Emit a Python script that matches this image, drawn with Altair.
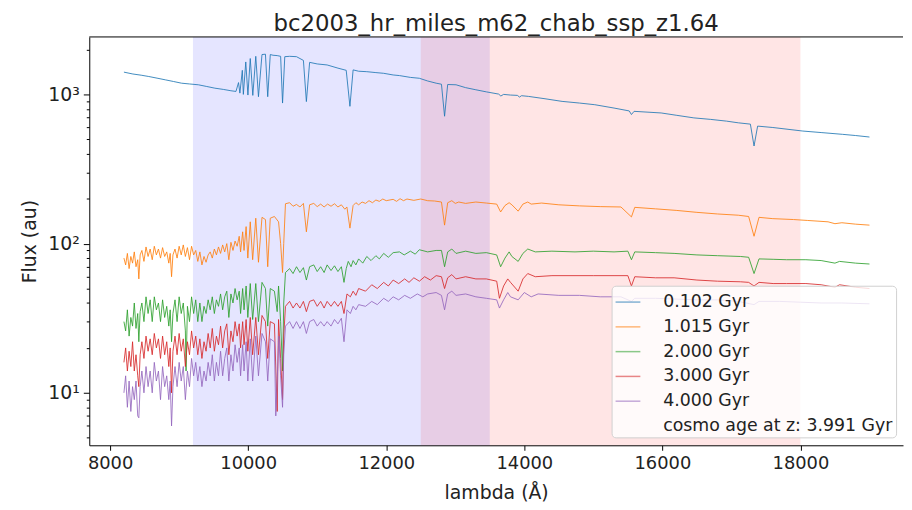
import altair as alt
import pandas as pd

TITLE = "bc2003_hr_miles_m62_chab_ssp_z1.64"
labels = ["0.102 Gyr", "1.015 Gyr", "2.000 Gyr", "3.000 Gyr", "4.000 Gyr",
          "cosmo age at z: 3.991 Gyr"]
colors = ["#1f77b4", "#ff7f0e", "#2ca02c", "#d62728", "#9467bd", "rgba(0,0,0,0)"]

span_start = [9200, 12500]
span_end = [13500, 18000]
span_color = ["#0000ff", "#ff0000"]

x_ticks = [8000, 10000, 12000, 14000, 16000, 18000]
y_ticks = [5, 6, 7, 8, 9, 10, 20, 30, 40, 50, 60, 70, 80, 90, 100, 200, 300, 400,
           500, 600, 700, 800, 900, 1000, 2000]

# (lambda [A], flux [au])
s_0102 = [(8200, 1410), (8330, 1370), (8450, 1345), (8560, 1318), (8680, 1285), (8800, 1252),
          (8920, 1220), (9034, 1189), (9150, 1175), (9278, 1160), (9400, 1130), (9517, 1101),
          (9640, 1080), (9750, 1058), (9823, 1047), (9860, 1200), (9880, 1020), (9915, 1450),
          (9930, 1000), (9965, 1650), (9996, 990), (10030, 1740), (10067, 985), (10110, 1800),
          (10149, 965), (10200, 1850), (10250, 1860), (10283, 965), (10320, 1850), (10360, 1830),
          (10420, 1820), (10470, 1800), (10498, 875), (10530, 1790), (10600, 1800), (10700, 1790),
          (10800, 1690), (10843, 895), (10890, 1640), (11000, 1600), (11144, 1575), (11300, 1500),
          (11420, 1450), (11474, 832), (11520, 1460), (11600, 1430), (11718, 1420), (11850, 1400),
          (11963, 1385), (12100, 1350), (12192, 1337), (12350, 1300), (12479, 1283), (12600, 1230),
          (12723, 1189), (12800, 1170), (12845, 714), (12890, 1165), (13011, 1160), (13150, 1110),
          (13298, 1074), (13450, 1040), (13628, 1005), (13660, 975), (13700, 1000), (13800, 990),
          (13900, 985), (13930, 960), (13960, 980), (14059, 970), (14300, 935),
          (14547, 898), (14800, 875), (15021, 853), (15300, 810), (15520, 775), (15552, 733),
          (15590, 770), (15983, 751), (16200, 725), (16456, 696), (16700, 680), (16930, 662),
          (17100, 645), (17275, 632), (17328, 451), (17380, 613), (17600, 600), (18035, 568),
          (18300, 555), (18610, 540), (18800, 530), (19000, 518)]

s_1015 = [(8200, 80), (8225, 72), (8250, 86), (8275, 68), (8300, 82), (8325, 74), (8350, 88),
          (8375, 70), (8400, 78), (8416, 58), (8435, 84), (8460, 90), (8490, 76), (8520, 95),
          (8550, 82), (8580, 92), (8610, 78), (8640, 96), (8670, 84), (8700, 92), (8730, 80),
          (8760, 94), (8790, 82), (8820, 88), (8850, 74), (8870, 86), (8890, 60), (8910, 84),
          (8940, 92), (8970, 80), (9000, 96), (9030, 84), (9060, 98), (9090, 82), (9120, 94),
          (9150, 78), (9180, 96), (9210, 84), (9240, 90), (9270, 76), (9300, 88), (9330, 72),
          (9360, 82), (9390, 75), (9420, 84), (9450, 88), (9480, 80), (9510, 92), (9540, 84),
          (9570, 95), (9600, 86), (9630, 98), (9660, 88), (9690, 100), (9720, 78), (9750, 102),
          (9780, 90), (9810, 104), (9840, 96), (9870, 112), (9890, 88), (9920, 120), (9940, 90),
          (9970, 130), (9995, 80), (10030, 140), (10065, 78), (10110, 148), (10149, 75),
          (10200, 150), (10250, 145), (10283, 70), (10320, 148), (10380, 152), (10440, 140),
          (10470, 100), (10498, 64), (10515, 100), (10540, 185), (10600, 188), (10650, 178),
          (10700, 183), (10750, 176), (10800, 186), (10843, 120), (10890, 182), (10950, 186),
          (11000, 177), (11050, 184), (11100, 176), (11150, 184), (11200, 178), (11250, 185),
          (11300, 176), (11350, 182), (11400, 170), (11430, 176), (11474, 127), (11520, 180),
          (11560, 188), (11600, 182), (11650, 190), (11700, 186), (11750, 194), (11800, 188),
          (11850, 196), (11900, 192), (11950, 199), (12000, 194), (12100, 198), (12150, 192),
          (12200, 200), (12250, 194), (12300, 199), (12400, 195), (12500, 199), (12600, 194),
          (12700, 193), (12800, 190), (12845, 133), (12890, 188), (12950, 194), (13000, 186),
          (13050, 190), (13150, 186), (13298, 190), (13450, 187), (13600, 184), (13657, 163),
          (13720, 180), (13780, 188), (13820, 182), (13911, 165), (13980, 184), (14050, 190),
          (14100, 184), (14250, 187), (14500, 182), (14800, 179), (15100, 177),
          (15400, 176), (15552, 151), (15600, 175), (15900, 171), (16200, 167), (16500, 162),
          (16800, 158), (17100, 155), (17250, 152), (17328, 112), (17400, 150), (17600, 147),
          (17900, 145), (18100, 143), (18400, 140), (18500, 136), (18600, 138), (18800, 135),
          (19000, 133)]

s_2000 = [(8200, 30), (8225, 26), (8250, 36), (8275, 24), (8300, 32), (8325, 28), (8350, 40),
          (8375, 27), (8400, 34), (8416, 22), (8435, 35), (8460, 40), (8490, 30), (8520, 44),
          (8550, 34), (8580, 42), (8610, 30), (8640, 44), (8670, 36), (8700, 40), (8730, 30),
          (8760, 42), (8790, 32), (8820, 38), (8850, 28), (8870, 36), (8890, 22), (8910, 34),
          (8940, 42), (8970, 30), (9000, 44), (9030, 34), (9060, 40), (9090, 26), (9100, 14),
          (9120, 38), (9150, 30), (9180, 44), (9210, 34), (9240, 42), (9270, 30), (9300, 40),
          (9330, 30), (9360, 38), (9390, 34), (9420, 42), (9450, 36), (9480, 44), (9510, 34),
          (9540, 42), (9570, 38), (9600, 46), (9630, 36), (9660, 44), (9690, 48), (9720, 32),
          (9750, 46), (9780, 40), (9810, 50), (9840, 42), (9870, 48), (9890, 34), (9920, 50),
          (9940, 36), (9970, 52), (9995, 32), (10030, 54), (10065, 31), (10110, 54), (10149, 30),
          (10200, 55), (10250, 50), (10283, 28), (10320, 50), (10380, 48), (10420, 35),
          (10440, 52), (10470, 30), (10498, 14), (10515, 40), (10540, 64), (10600, 68),
          (10650, 63), (10700, 70), (10750, 64), (10800, 69), (10843, 57), (10890, 70),
          (10950, 72), (11000, 65), (11050, 70), (11100, 64), (11144, 72), (11200, 66),
          (11250, 71), (11300, 65), (11350, 70), (11388, 55), (11420, 68), (11450, 76),
          (11490, 70), (11520, 77), (11560, 72), (11600, 79), (11660, 74), (11718, 82),
          (11780, 77), (11850, 83), (11900, 79), (11963, 86), (12030, 81), (12100, 87),
          (12192, 88), (12260, 84), (12350, 89), (12420, 85), (12479, 91), (12600, 88),
          (12723, 90), (12800, 90), (12845, 70), (12890, 88), (12950, 92), (13011, 86),
          (13150, 89), (13298, 86), (13450, 87), (13600, 84), (13657, 70), (13720, 80),
          (13780, 88), (13820, 82), (13911, 76), (13980, 86), (14050, 92), (14159, 88),
          (14400, 89), (14734, 88), (15000, 89), (15300, 88), (15500, 89),
          (15552, 78), (15600, 88), (15900, 87), (16170, 86), (16500, 84), (16800, 83),
          (17131, 82), (17250, 81), (17328, 63), (17400, 79), (17605, 78.5), (17800, 78),
          (18079, 78), (18300, 77), (18500, 74), (18567, 76), (18800, 74), (19000, 73)]

s_3000 = [(8200, 16), (8225, 20), (8250, 14), (8275, 19), (8300, 15), (8325, 22), (8350, 14),
          (8375, 18), (8400, 13), (8416, 11), (8435, 18), (8460, 22), (8490, 17), (8520, 24),
          (8550, 19), (8580, 23), (8610, 18), (8640, 25), (8670, 20), (8700, 23), (8730, 17),
          (8760, 24), (8790, 18), (8820, 22), (8850, 15), (8870, 20), (8890, 10), (8910, 19),
          (8940, 24), (8970, 18), (9000, 25), (9030, 19), (9060, 23), (9090, 15), (9120, 22),
          (9150, 18), (9180, 26), (9210, 20), (9240, 24), (9270, 18), (9300, 23), (9330, 17),
          (9360, 22), (9390, 19), (9420, 25), (9450, 20), (9480, 27), (9510, 19), (9540, 24),
          (9570, 21), (9600, 28), (9630, 20), (9660, 26), (9690, 29), (9720, 18), (9750, 26),
          (9780, 22), (9810, 30), (9840, 24), (9870, 29), (9890, 20), (9920, 30), (9940, 21),
          (9970, 31), (9995, 19), (10030, 32), (10065, 18), (10110, 32), (10149, 18),
          (10200, 33), (10250, 30), (10283, 17), (10320, 30), (10380, 29), (10420, 7.5),
          (10440, 31), (10470, 17), (10498, 9), (10515, 24), (10540, 38), (10600, 41),
          (10650, 37), (10700, 40), (10750, 37), (10800, 41), (10843, 35), (10890, 41),
          (10950, 42), (11000, 38), (11050, 41), (11100, 37), (11144, 41), (11200, 38),
          (11250, 41), (11300, 38), (11350, 41), (11388, 34), (11431, 46), (11480, 44),
          (11520, 48), (11560, 45), (11600, 50), (11700, 48), (11790, 53), (11870, 50),
          (11963, 55), (12030, 52), (12100, 57), (12180, 54), (12267, 58), (12330, 55),
          (12400, 59), (12480, 56), (12556, 60), (12640, 57), (12723, 61), (12800, 60),
          (12845, 50), (12890, 59), (12950, 62), (13011, 58), (13150, 60), (13298, 58),
          (13450, 58), (13600, 56), (13640, 43), (13700, 52), (13760, 58), (13800, 55),
          (13911, 48), (13980, 58), (14050, 63), (14159, 60), (14400, 61), (14734, 61),
          (15000, 61), (15300, 61), (15500, 61), (15552, 52), (15600, 60), (15900, 59),
          (16170, 59), (16500, 57), (16800, 56), (17131, 55.5), (17250, 55), (17328, 52),
          (17400, 55), (17605, 54), (17800, 54), (18079, 54), (18300, 53), (18500, 51),
          (18567, 53), (18800, 51), (19000, 50)]

s_4000 = [(8200, 10), (8225, 13), (8250, 8), (8275, 12), (8300, 7.5), (8325, 11), (8350, 9),
          (8375, 12), (8400, 7), (8416, 6.8), (8435, 11), (8460, 14), (8490, 10), (8520, 15),
          (8550, 11), (8580, 14), (8610, 10), (8640, 16), (8670, 12), (8700, 14), (8730, 9),
          (8760, 15), (8790, 11), (8820, 13), (8850, 9), (8870, 12), (8890, 6), (8910, 11),
          (8940, 15), (8970, 11), (9000, 16), (9030, 12), (9060, 15), (9090, 9), (9120, 14),
          (9150, 11), (9180, 17), (9210, 13), (9240, 16), (9270, 12), (9300, 15), (9330, 11),
          (9360, 14), (9390, 12), (9420, 16), (9450, 13), (9480, 18), (9510, 12), (9540, 16),
          (9570, 13), (9600, 19), (9630, 13), (9660, 17), (9690, 20), (9720, 12), (9750, 18),
          (9780, 14), (9810, 21), (9840, 16), (9870, 20), (9890, 13), (9920, 21), (9940, 14),
          (9970, 22), (9995, 12), (10030, 23), (10065, 12), (10110, 24), (10149, 13),
          (10200, 25), (10250, 22), (10283, 12), (10320, 23), (10380, 22), (10400, 7),
          (10425, 14), (10445, 24), (10470, 13), (10498, 8), (10515, 18), (10540, 28),
          (10600, 30), (10650, 27), (10700, 30), (10750, 27), (10800, 30), (10843, 25),
          (10890, 30), (10950, 31), (11000, 28), (11050, 30), (11100, 28), (11144, 30),
          (11200, 28), (11250, 31), (11300, 29), (11350, 31.6), (11388, 22), (11431, 36),
          (11480, 34), (11520, 38), (11560, 36), (11600, 39), (11700, 38), (11790, 41),
          (11870, 39), (11963, 43), (12030, 41), (12100, 44), (12180, 42), (12267, 45),
          (12350, 43), (12450, 46), (12530, 44), (12600, 46), (12723, 47), (12800, 45),
          (12845, 36), (12890, 46), (12950, 48), (13011, 45), (13150, 46), (13298, 44),
          (13450, 43), (13600, 42), (13640, 37), (13700, 42), (13760, 47), (13800, 44),
          (13911, 42), (14000, 47), (14100, 44), (14200, 46), (14500, 45),
          (14800, 45), (15100, 44), (15400, 44), (15552, 41), (15600, 43), (15900, 43),
          (16200, 42.5), (16500, 42), (16800, 42), (17100, 41), (17328, 39), (17400, 41),
          (17700, 41), (18000, 40.5), (18300, 40), (18600, 40), (19000, 39.5)]

series = [s_0102, s_1015, s_2000, s_3000, s_4000]

rows = []
for lab, pts in zip(labels, series):
    for lam, flux in pts:
        rows.append({"series": lab, "lam": lam, "flux": flux})
df = pd.DataFrame(rows)

spans = pd.DataFrame({"start": span_start, "end": span_end, "c": span_color})

FONT = "DejaVu Sans"
W, H = 821, 412

xscale = alt.Scale(domain=[7698, 19486], nice=False, zero=False)
yscale = alt.Scale(type="log", domain=[4.45, 2427], nice=False)

span_layer = alt.Chart(spans).mark_rect(opacity=0.1).encode(
    x=alt.X("start:Q", scale=xscale),
    x2="end:Q",
    fill=alt.Fill("c:N", scale=None, legend=None),
)

lines = alt.Chart(df).mark_line(strokeWidth=1, opacity=0.85).encode(
    x=alt.X("lam:Q", scale=xscale,
            axis=alt.Axis(values=x_ticks, format="d", title="lambda (Å)",
                          titleX=W / 2, titleY=48, titleBaseline="middle",
                          titleFontSize=19, titleFontWeight="normal", titleFont=FONT,
                          labelFont=FONT, labelFontSize=18, labelColor="#222",
                          tickSize=5, tickColor="#000", domainColor="#000",
                          labelPadding=4, grid=False, titleColor="#222")),
    y=alt.Y("flux:Q", scale=yscale,
            axis=alt.Axis(values=y_ticks, title="Flux (au)",
                          labelExpr="datum.value == 10 ? '10¹' : datum.value == 100 ? '10²' : datum.value == 1000 ? '10³' : ''",
                          labelOverlap=False,
                          tickSize={"condition": {"test": "indexof([10, 100, 1000], datum.value) >= 0", "value": 6}, "value": 3},
                          titleX=-60, titleY=H / 2, titleBaseline="middle", titleAlign="center",
                          titleFontSize=19, titleFontWeight="normal", titleFont=FONT,
                          labelFont=FONT, labelFontSize=19, labelColor="#222",
                          tickColor="#000", domainColor="#000", labelPadding=4,
                          grid=False, titleColor="#222")),
    stroke=alt.Stroke("series:N",
                      scale=alt.Scale(domain=labels, range=colors),
                      legend=alt.Legend(title=None, orient="none", legendX=527, legendY=251,
                                        fillColor="rgba(255,255,255,0.8)", strokeColor="#d0d0d0",
                                        cornerRadius=4, padding=3, symbolType="stroke",
                                        symbolSize=625, symbolStrokeWidth=1.5,
                                        symbolOpacity=0.55, labelFont=FONT, labelFontSize=17.5,
                                        labelColor="#222", labelOffset=22, rowPadding=3,
                                        labelLimit=400)),
)

border = alt.Chart(pd.DataFrame({"a": [0]})).mark_rule(color="#000", strokeWidth=1).encode(
    x=alt.value(0), x2=alt.value(W), y=alt.value(0)
)

chart = alt.layer(span_layer, lines, border).resolve_scale(
    fill="independent", stroke="independent"
).properties(
    width=W, height=H,
    title=alt.TitleParams(TITLE, font=FONT, fontSize=23, fontWeight="normal",
                          color="#222", anchor="middle", offset=0),
    padding={"left": 82, "top": 27, "right": 1, "bottom": 55},
    autosize=alt.AutoSizeParams(type="none"),
).configure_view(stroke=None)

chart.save("out.html", embed_options={"renderer": "svg", "actions": False})
